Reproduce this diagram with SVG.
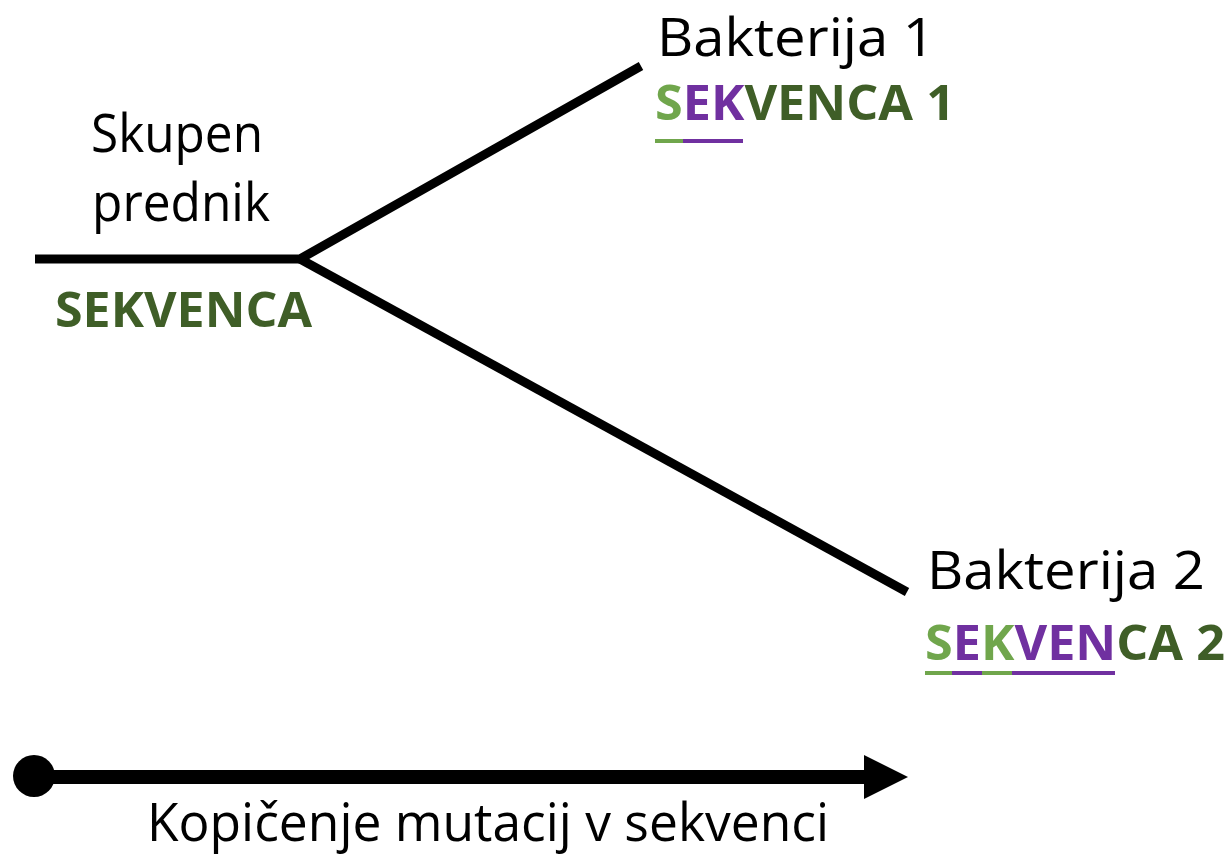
<svg xmlns="http://www.w3.org/2000/svg" width="1229" height="856" viewBox="0 0 1229 856">
<style>
.lbl{font-family:"Open Sans","Noto Sans","Liberation Sans",sans-serif;font-size:53px;fill:#000}
.seq{font-family:"Open Sans","Noto Sans","Liberation Sans",sans-serif;font-size:49px;font-weight:bold;fill:#3f5e27}
.lg{fill:#70a64c}
.pu{fill:#7030a0}
.br{stroke:#000;stroke-width:9;fill:none;stroke-linecap:butt;stroke-linejoin:miter}
</style>
<rect width="1229" height="856" fill="#fff"/>
<defs>
<marker id="ah" markerUnits="userSpaceOnUse" viewBox="0 0 44 44" refX="0" refY="22" markerWidth="44" markerHeight="44" orient="auto">
<path d="M0,0 L44,22 L0,44 Z" fill="#000"/>
</marker>
</defs>
<g id="connectors">
<path class="br" d="M35,259 L300,259 L641,66"/>
<path class="br" d="M300,259 L907,592"/>
<line x1="34" y1="777" x2="864" y2="777" stroke="#000" stroke-width="14" marker-end="url(#ah)"/>
<circle cx="34" cy="776" r="21" fill="#000"/>
</g>
<g id="ancestor">
<text class="lbl" x="91" y="152" textLength="172" lengthAdjust="spacingAndGlyphs">Skupen</text>
<text class="lbl" x="92" y="221" textLength="178" lengthAdjust="spacingAndGlyphs">prednik</text>
<text class="seq" x="55" y="327" textLength="257" lengthAdjust="spacingAndGlyphs">SEKVENCA</text>
</g>
<g id="bacteria1">
<text class="lbl" x="657" y="56" font-size="51" textLength="278" lengthAdjust="spacingAndGlyphs">Bakterija 1</text>
<text class="seq" x="655" y="120" textLength="300" lengthAdjust="spacingAndGlyphs"><tspan class="lg">S</tspan><tspan class="pu">EK</tspan>VENCA 1</text>
<rect x="655" y="139" width="28" height="4" class="lg"/>
<rect x="683" y="139" width="60" height="4" class="pu"/>
</g>
<g id="bacteria2">
<text class="lbl" x="927" y="589" textLength="278" lengthAdjust="spacingAndGlyphs">Bakterija 2</text>
<text class="seq" x="925" y="660" textLength="300" lengthAdjust="spacingAndGlyphs"><tspan class="lg">S</tspan><tspan class="pu">E</tspan><tspan class="lg">K</tspan><tspan class="pu">VEN</tspan>CA 2</text>
<rect x="925" y="671" width="27" height="4" class="lg"/>
<rect x="952" y="671" width="30" height="4" class="pu"/>
<rect x="982" y="671" width="30" height="4" class="lg"/>
<rect x="1012" y="671" width="103" height="4" class="pu"/>
</g>
<g id="axis-label">
<text class="lbl" x="147" y="841" font-size="52" textLength="682" lengthAdjust="spacingAndGlyphs">Kopičenje mutacij v sekvenci</text>
</g>
</svg>
